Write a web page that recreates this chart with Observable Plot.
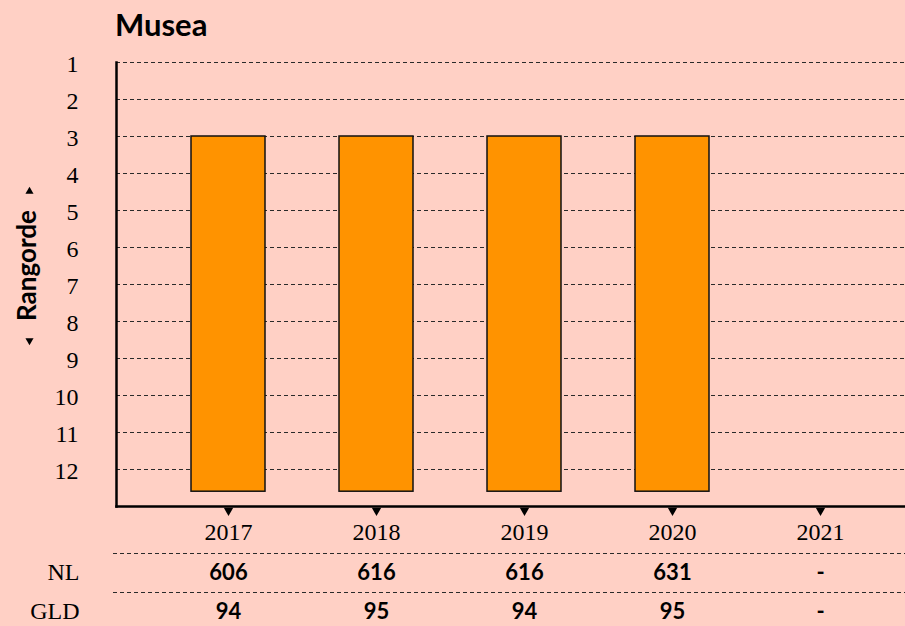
<!DOCTYPE html>
<html><head><meta charset="utf-8">
<script src="https://cdn.jsdelivr.net/npm/d3@7"></script>
<script src="https://cdn.jsdelivr.net/npm/@observablehq/plot@0.6"></script>
<style>
html,body{margin:0;padding:0;background:#ffd0c5;}
#wrap{position:relative;width:905px;height:626px;overflow:hidden;background:#ffd0c5;}
#title{position:absolute;left:115px;top:5px;font:700 31px Lato, sans-serif;color:#000;}
#chart{position:absolute;left:0;top:48px;}
#table{position:absolute;left:0;top:548px;}
svg{background:transparent !important;overflow:visible;}
</style></head><body>
<div id="wrap"><div id="title">Musea</div><div id="chart"></div><div id="table"></div></div>
<script>
// ---- data ----
const years = ["2017", "2018", "2019", "2020", "2021"];
const ranks = [3, 3, 3, 3, null];
const rankTicks = [1, 2, 3, 4, 5, 6, 7, 8, 9, 10, 11, 12];
const rankDomain = [1, 13];
const barBase = 12.6;
const rowLabels = ["NL", "GLD"];
const nlValues = ["606", "616", "616", "631", "-"];
const gldValues = ["94", "95", "94", "95", "-"];
const yLabel = "Rangorde";

// ---- styles ----
const serif = "'Liberation Serif', 'DejaVu Serif', serif";
const sans = "Lato, 'Noto Sans', sans-serif";
const xScale = {type: "band", domain: years, range: [190, 857], paddingInner: 0.5, paddingOuter: 0, axis: null};

const bars = years.map((year, i) => ({year, rank: ranks[i]})).filter(d => d.rank != null);

const chart = Plot.plot({
  width: 905, height: 500,
  marginLeft: 116, marginRight: 0, marginTop: 14, marginBottom: 42,
  style: {background: "transparent", color: "#000"},
  x: xScale,
  y: {domain: rankDomain, reverse: true, axis: null},
  marks: [
    Plot.ruleY(rankTicks, {y: d => d, stroke: "#2a2a2a", strokeWidth: 1, strokeDasharray: "4,3"}),
    Plot.barY(bars, {x: "year", y1: () => barBase, y2: "rank", fill: "#ff9300", stroke: "#111", strokeWidth: 1.5, inset: 0}),
    Plot.frame({anchor: "left", stroke: "#000", strokeWidth: 2.5}),
    Plot.frame({anchor: "bottom", stroke: "#000", strokeWidth: 2.5}),
    Plot.dot(years, {x: d => d, frameAnchor: "bottom", dy: 4, symbol: "triangle", rotate: 180, r: 3.5, fill: "#000", stroke: "none"}),
    Plot.text(years, {x: d => d, frameAnchor: "bottom", dy: 26, lineAnchor: "middle", fontSize: 24, fontFamily: serif, fill: "#000"}),
    Plot.text(rankTicks, {y: d => d, frameAnchor: "left", dx: -38, dy: 2, textAnchor: "end", lineAnchor: "middle", fontSize: 24, fontFamily: serif, fill: "#000"}),
    Plot.text([yLabel], {frameAnchor: "left", dx: -89, dy: -19, rotate: -90, textAnchor: "middle", lineAnchor: "middle", fontSize: 26, fontWeight: 700, fontFamily: sans, fill: "#000"}),
    Plot.dot([yLabel], {frameAnchor: "left", dx: -87, dy: -93, symbol: "triangle", r: 3, fill: "#000", stroke: "none"}),
    Plot.dot([yLabel], {frameAnchor: "left", dx: -87, dy: 56, symbol: "triangle", rotate: 180, r: 3, fill: "#000", stroke: "none"})
  ]
});
document.getElementById("chart").append(chart);

const tableData = [];
years.forEach((year, i) => {
  tableData.push({year, row: "NL", value: nlValues[i]});
  tableData.push({year, row: "GLD", value: gldValues[i]});
});

const table = Plot.plot({
  width: 905, height: 78,
  marginLeft: 113, marginRight: 0, marginTop: 0, marginBottom: 0,
  style: {background: "transparent", color: "#000"},
  x: xScale,
  y: {type: "point", domain: rowLabels, range: [24, 63], padding: 0, axis: null},
  marks: [
    Plot.ruleY(rowLabels, {y: d => d, dy: -19, stroke: "#2a2a2a", strokeWidth: 1, strokeDasharray: "4,3"}),
    Plot.text(rowLabels, {y: d => d, frameAnchor: "left", dx: -34, textAnchor: "end", lineAnchor: "middle", fontSize: 24, fontFamily: serif, fill: "#000"}),
    Plot.text(tableData, {x: "year", y: "row", text: "value", lineAnchor: "middle", fontSize: 22, fontWeight: 700, fontFamily: sans, fill: "#000"})
  ]
});
document.getElementById("table").append(table);
</script>
</body></html>
